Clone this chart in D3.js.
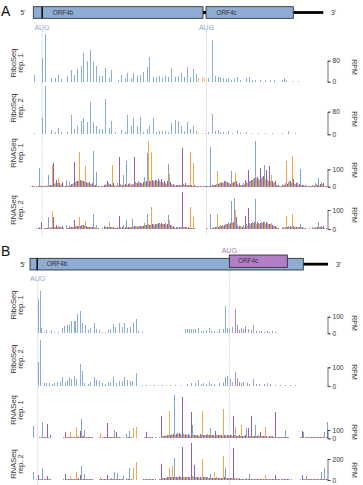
<!DOCTYPE html>
<html><head><meta charset="utf-8">
<script src="https://cdn.jsdelivr.net/npm/d3@7"></script>
<style>body{margin:0;background:#fff}svg{display:block}text{font-family:"Liberation Sans",Arial,sans-serif}</style>
</head><body><svg id="c" width="363" height="485"></svg>
<script>
// ---------- DATA (positions in nt along transcript, values in RPM) ----------
const riboA1Blue=[[4,25],[12,89],[15,180],[21,15],[25,13],[28,25],[31,10],[37,23],[41,44],[44,25],[47,48],[51,61],[53,108],[57,79],[60,121],[63,76],[66,61],[69,23],[72,23],[75,53],[79,15],[81,46],[88,6],[91,25],[95,13],[97,32],[101,15],[103,33],[107,23],[110,25],[113,36],[117,56],[119,94],[123,19],[126,18],[129,23],[132,15],[135,20],[138,19],[141,51],[145,19],[148,23],[151,32],[154,18],[157,55],[160,19],[163,48],[166,28],[178,13],[182,159],[185,23],[188,19],[190,19],[193,15],[196,10],[198,13],[201,8],[204,10],[207,19],[210,8],[216,13],[219,18],[222,8],[225,8],[230,5],[235,5],[240,5],[244,8],[252,8],[254,13],[256,5],[262,3],[268,3]];
const riboA1Orange=[[168,15],[172,19],[174,13]];
const riboA2Blue=[[4,4],[12,58],[15,170],[21,16],[25,7],[28,22],[31,7],[37,7],[41,68],[44,18],[47,28],[51,46],[53,58],[57,44],[60,113],[63,44],[66,28],[69,19],[72,19],[75,125],[79,22],[81,46],[85,7],[91,16],[95,7],[97,70],[101,31],[103,58],[107,31],[110,63],[113,7],[117,19],[119,28],[123,56],[126,7],[129,12],[132,10],[135,12],[138,7],[141,40],[145,50],[148,48],[151,28],[154,10],[157,44],[160,19],[163,31],[166,10],[178,7],[182,73],[185,10],[188,15],[190,7],[193,7],[196,5],[198,10],[202,5],[207,10],[210,5],[216,7],[222,5],[228,5],[235,5],[242,5],[252,5],[258,10],[265,5]];
const riboA2Orange=[[168,4],[172,5],[175,4]];

const rnaA1Blue=[2,3,4,106,3,6,67,10,15,20, 12,4,38,29,15,25,30,35,25,22, 18,207,86,2,5,15,20,12,8,20, 15,67,150,20,15,25,30,20,54,192, 30,35,38,30,25,20,130,15,8,10, 12,15,10,8,6,3,2,2,3,4, 230,10,15,20,25,30,20,92,25,15, 12,20,25,30,40,265,45,50,125,40, 30,20,10,3,15,20,25,20,15,25, 100,8,3,4,12,20,48,25,5,0];
const rnaA1Orange=[0,2,3,4,2,8,10,125,20,48, 15,3,8,12,20,30,202,38,119,20, 15,12,6,1,3,12,15,125,6,10, 8,10,12,15,18,20,25,18,28,265, 202,30,35,28,22,18,73,12,6,8, 10,12,8,202,134,2,2,1,2,3, 6,8,92,25,20,28,22,20,77,12, 10,15,20,35,45,50,40,55,45,35, 67,25,8,2,12,150,30,177,18,12, 10,6,2,3,8,15,12,18,3,0];
const rnaA1Purple=[2,1,5,3,4,5,8,134,38,22, 29,2,6,18,142,35,40,30,28,25, 20,10,5,2,8,35,18,20,5,169, 12,15,18,12,173,20,22,25,30,35, 38,40,42,45,35,30,25,18,10,12, 221,20,12,10,8,3,2,2,2,2, 8,12,18,22,30,25,18,25,30,20, 8,38,96,40,50,55,106,60,96,119, 35,30,12,4,10,18,35,42,20,15, 12,10,3,2,6,12,18,20,4,0];

const rnaA2Blue=[1,2,3,10,2,4,61,8,10,12, 8,3,21,15,10,15,18,20,15,12, 10,79,21,1,4,10,12,8,6,10, 8,20,47,12,51,15,18,15,30,79, 20,25,28,30,28,30,73,20,10,8, 10,12,8,6,5,2,1,1,2,3, 79,8,10,15,20,25,38,149,161,20, 15,20,25,30,35,156,30,35,38,30, 25,18,8,2,10,12,15,12,10,12, 26,6,2,3,8,12,38,15,4,0];
const rnaA2Orange=[0,1,2,3,1,5,8,96,12,15, 8,2,5,8,12,18,61,20,44,12, 10,8,4,1,2,8,37,10,4,6, 5,6,8,10,12,15,18,15,20,25, 114,22,25,28,25,20,47,10,5,6, 8,10,6,117,65,2,1,1,1,2, 5,6,79,20,18,25,28,30,100,10, 8,12,18,25,30,28,25,30,25,25, 33,15,6,1,8,68,12,79,10,8, 8,4,1,2,6,10,8,12,2,0];
const rnaA2Purple=[1,1,3,38,3,4,6,65,21,12, 15,1,4,10,47,15,18,20,15,12, 12,6,3,1,16,10,8,10,4,68, 8,10,12,10,15,12,15,18,20,22, 25,28,30,32,28,25,20,15,8,10, 196,12,8,6,5,2,1,1,1,1, 5,8,12,18,20,25,30,38,65,15, 8,68,109,30,35,38,30,38,35,25, 20,15,6,2,6,12,18,15,12,10, 8,6,2,1,4,8,12,15,3,0];

const riboB1Blue=[[8,205],[10,257],[11,34],[14,10],[16,19],[21,19],[24,8],[28,10],[32,29],[34,42],[37,48],[39,48],[41,76],[44,76],[45,76],[47,118],[50,133],[52,65],[55,48],[58,19],[60,29],[64,65],[66,23],[69,19],[72,10],[75,8],[78,19],[80,23],[83,57],[85,38],[89,65],[92,38],[94,61],[97,29],[100,38],[103,61],[106,86],[108,15],[112,10],[116,2],[120,2],[124,3],[128,2],[132,2],[136,3],[140,2],[142,3],[145,3],[150,4],[155,27],[157,27],[159,27],[161,27],[163,23],[165,27],[168,34],[171,11],[173,15],[176,19],[179,34],[181,11],[184,15],[187,8],[189,23],[193,23],[195,162],[197,29],[199,23],[202,38],[211,29],[218,23],[223,51],[229,11],[239,8],[255,3],[265,2]];
const riboB1Purple=[[205,148],[207,48],[209,19],[213,23],[215,46],[221,19],[226,15],[231,11],[234,10],[237,11],[242,11],[245,8],[250,3],[260,3],[270,3]];
const riboB2Blue=[[8,130],[10,246],[14,18],[16,14],[19,18],[22,11],[24,14],[27,23],[30,23],[32,50],[35,23],[37,32],[39,50],[41,36],[44,53],[46,36],[50,117],[52,82],[54,18],[58,11],[60,23],[64,46],[66,32],[69,28],[72,14],[75,11],[78,23],[80,14],[83,50],[86,18],[89,28],[92,28],[94,50],[97,32],[100,28],[102,28],[106,68],[112,4],[116,3],[120,4],[124,3],[128,4],[132,3],[136,4],[140,3],[145,3],[150,3],[157,11],[161,14],[165,14],[168,32],[171,11],[173,14],[176,11],[179,21],[181,11],[184,11],[189,14],[193,21],[195,46],[197,53],[200,36],[202,23],[211,18],[219,11],[223,39],[237,14],[255,4],[265,4]];
const riboB2Purple=[[205,75],[207,41],[209,23],[213,23],[217,14],[226,11],[229,11],[234,11],[240,11],[245,7],[250,4],[260,4]];

const rnaB1Blue=[5,152,8,10,192,15,10,8,6,3, 4,10,15,12,20,18,25,233,100,15, 12,3,2,10,15,12,18,20,100,15, 12,10,48,88,5,3,4,6,15,20, 12,8,5,10,30,40,45,50,518,60, 55,50,45,40,160,35,30,40,45,50, 120,45,40,35,30,35,40,45,35,30, 25,30,120,25,30,160,35,30,25,20, 25,20,18,15,12,100,10,8,4,3, 12,72,10,12,15,10,12,15,80,192];
const rnaB1Orange=[3,5,6,8,10,12,8,6,5,2, 3,8,10,80,15,140,20,25,20,12, 10,2,3,60,12,10,15,12,18,10, 8,6,10,12,128,136,4,5,10,15, 10,6,4,8,25,30,333,40,45,50, 45,40,35,30,40,35,30,329,45,40, 35,30,40,35,352,30,35,30,140,25, 160,25,20,25,30,25,28,30,140,20, 22,18,15,12,10,15,8,6,3,2, 10,8,12,10,15,12,10,12,8,6];
const rnaB1Purple=[4,6,8,10,12,168,40,8,5,3, 4,72,12,10,15,20,88,25,20,15, 10,3,2,8,10,180,15,12,72,10, 8,5,12,10,6,5,4,8,80,20, 15,10,6,270,30,40,45,50,55,60, 500,55,50,315,45,40,50,45,40,35, 40,88,35,40,45,35,40,270,30,35, 30,35,128,270,30,25,80,30,25,30, 28,315,20,15,12,10,8,6,3,2, 88,10,12,15,10,12,15,12,10,8];

const rnaB2Blue=[3,73,5,6,117,8,6,4,3,2, 3,5,8,6,10,12,15,136,54,10, 8,2,2,6,10,8,12,15,73,63, 10,41,15,111,4,3,3,4,8,10, 6,5,4,6,15,20,25,30,206,30, 28,25,30,25,35,30,25,20,25,30, 54,20,25,20,15,111,20,18,15,12, 10,12,15,54,10,12,10,8,10,8, 10,8,6,5,6,8,6,5,3,2, 6,8,41,6,8,10,12,73,111,8];
const rnaB2Orange=[2,3,4,5,4,6,5,3,2,1, 2,4,6,41,8,73,10,12,10,6, 5,1,2,32,6,5,8,10,10,6, 5,4,8,6,117,168,3,3,6,8, 5,4,3,5,18,20,117,130,28,25, 30,25,28,22,30,25,20,200,25,22, 20,73,18,15,231,15,18,15,12,10, 8,10,12,10,8,10,12,8,48,8, 8,6,5,4,5,6,5,4,2,1, 4,6,5,6,8,6,8,6,5,4];
const rnaB2Purple=[2,3,48,5,6,41,5,4,2,1, 2,54,8,6,10,12,48,12,10,8, 6,2,2,5,8,48,10,8,12,6, 5,4,6,5,4,3,3,5,8,10, 8,6,4,150,20,25,28,30,32,35, 317,30,28,349,143,25,30,28,25,22, 20,18,20,22,25,20,22,307,18,15, 12,10,12,10,8,10,8,10,8,6, 8,48,6,5,6,5,4,3,2,1, 48,6,5,6,8,6,8,6,5,4];

// gene structures (nt)
const geneA = {txStart:3.3, txEnd:293.3, orfs:[{name:"ORF4b",start:11.7,end:173,frame:"blue"},{name:"ORF4c",start:176,end:263.3,frame:"blue"}]};
const geneB = {txStart:0, txEnd:298, orfs:[{name:"ORF4b",start:6.7,end:273.3,frame:"blue"},{name:"ORF4c",start:199.3,end:257.3,frame:"purple"}]};
const augA = [{pos:12, frame:"blue"},{pos:176.5, frame:"blue"}];
const augB = [{pos:7.7, frame:"blue"},{pos:199.3, frame:"purple"}];

// ---------- DRAWING ----------
const svg = d3.select("#c");
const x = d3.scaleLinear().domain([0,300]).range([30,330]);
const COL = {blue:"#7fa5d3", orange:"#f0a84a", purple:"#9a5fa9", riboBlue:"#8aaed9", riboPurple:"#b088c6", riboOrange:"#f2c070",
  box:"#8eacd4", boxPurple:"#b47ec6", augBlue:"#8ea9cf", augPurple:"#a878bd", text:"#333"};

const tracks = [
 {lab:["RiboSeq","rep. 1"], base:81.7, tick:80, tickY:60.7, labY:63, rpmY:67, pairs:[[riboA1Blue,COL.riboBlue],[riboA1Orange,COL.riboOrange]]},
 {lab:["RiboSeq","rep. 2"], base:134.3, tick:80, tickY:111.7, labY:108, rpmY:119, pairs:[[riboA2Blue,COL.riboBlue],[riboA2Orange,COL.riboOrange]]},
 {lab:["RNASeq","rep. 1"], base:186.7, tick:100, tickY:169.3, labY:153, rpmY:170, codons:[rnaA1Blue,rnaA1Orange,rnaA1Purple]},
 {lab:["RNASeq","rep. 2"], base:229, tick:100, tickY:210, labY:210, rpmY:215, codons:[rnaA2Blue,rnaA2Orange,rnaA2Purple]},
 {lab:["RiboSeq","rep. 1"], base:333.3, tick:100, tickY:316.7, labY:305, rpmY:323, pairs:[[riboB1Blue,COL.riboBlue],[riboB1Purple,COL.riboPurple]]},
 {lab:["RiboSeq","rep. 2"], base:386, tick:100, tickY:367.3, labY:359, rpmY:372, pairs:[[riboB2Blue,COL.riboBlue],[riboB2Purple,COL.riboPurple]]},
 {lab:["RNASeq","rep. 1"], base:438.3, tick:100, tickY:430, labY:410, rpmY:432, codons:[rnaB1Blue,rnaB1Orange,rnaB1Purple]},
 {lab:["RNASeq","rep. 2"], base:480, tick:200, tickY:459, labY:464, rpmY:470, codons:[rnaB2Blue,rnaB2Orange,rnaB2Purple]}
];
const frameCols=[COL.blue,COL.orange,COL.purple];

// dotted AUG guide lines (behind bars)
const guides = svg.append("g").attr("stroke","#a9a9a9").attr("stroke-width",0.7).attr("stroke-dasharray","1,1.2");
augA.forEach(a=>guides.append("line").attr("x1",x(a.pos)).attr("x2",x(a.pos)).attr("y1",31).attr("y2",236));
augB.forEach(a=>guides.append("line").attr("x1",x(a.pos)).attr("x2",x(a.pos)).attr("y1",a.frame==="purple"?269:282).attr("y2",485));

tracks.forEach(t=>{
  const y = d3.scaleLinear().domain([0,t.tick]).range([t.base,t.tickY]);
  const g = svg.append("g").attr("shape-rendering","crispEdges");
  if(t.pairs){
    t.pairs.forEach(([data,col])=>{
      g.append("g").selectAll("rect").data(data).join("rect")
        .attr("x",d=>Math.round(x(d[0]))).attr("width",1)
        .attr("y",d=>y(d[1])).attr("height",d=>y(0)-y(d[1])).attr("fill",col);
    });
  } else {
    t.codons.forEach((data,f)=>{
      g.append("g").selectAll("rect").data(data).join("rect")
        .attr("x",(d,i)=>Math.round(x(3*i+f))).attr("width",1)
        .attr("y",d=>y(d)).attr("height",d=>y(0)-y(d)).attr("fill",frameCols[f]);
    });
  }
  // axis bracket
  const ax = svg.append("g").attr("transform","translate(327.5,0)")
    .call(d3.axisRight(y).tickValues([0,t.tick]).tickSize(3).tickSizeOuter(3).tickPadding(2));
  ax.attr("font-family",null).attr("font-size",null);
  ax.selectAll("path,line").attr("stroke","#333").attr("stroke-width",0.7);
  ax.selectAll("text").attr("font-size",6.6).attr("fill",COL.text).attr("font-family","Liberation Sans, Arial, sans-serif");
  // RPM
  svg.append("text").attr("transform",`translate(351.5,${t.rpmY}) rotate(90)`).attr("text-anchor","middle")
    .attr("font-size",7).attr("fill",COL.text).text("RPM");
  // track label
  const lt = svg.append("text").attr("transform",`translate(16,${t.labY}) rotate(-90)`).attr("text-anchor","middle")
    .attr("font-size",7.6).attr("fill",COL.text);
  lt.append("tspan").attr("x",0).attr("dy",0).text(t.lab[0]);
  lt.append("tspan").attr("x",0).attr("dy",7.4).text(t.lab[1]);
});

// panel letters
svg.append("text").attr("x",1).attr("y",16).attr("font-size",14).attr("fill","#111").text("A");
svg.append("text").attr("x",1).attr("y",256).attr("font-size",14).attr("fill","#111").text("B");

function drawGene(gene, augs, top, h){
  const g = svg.append("g");
  const cy = top + h/2;
  svg.append("text").attr("x",20.5).attr("y",cy+2.4).attr("font-size",6.6).attr("fill",COL.text).text("5'");
  const last = gene.orfs[gene.orfs.length-1];
  const blueEnd = d3.max(gene.orfs.filter(o=>o.frame==="blue"),o=>o.end);
  // tail line
  g.append("rect").attr("x",x(blueEnd)).attr("y",cy-1.4).attr("width",x(gene.txEnd)-x(blueEnd)).attr("height",2.8).attr("fill","#000");
  return {g,cy};
}

// Gene A
(function(){
  const top=6.7,h=11.6,cy=top+h/2;
  const g=svg.append("g");
  svg.append("text").attr("x",20.5).attr("y",cy+2.4).attr("font-size",6.6).attr("fill",COL.text).text("5'");
  const o1=geneA.orfs[0], o2=geneA.orfs[1];
  g.append("rect").attr("x",x(o1.end)).attr("y",cy-1.6).attr("width",x(o2.start)-x(o1.end)).attr("height",3.2).attr("fill","#000");
  g.append("rect").attr("x",x(o2.end)).attr("y",cy-1.4).attr("width",x(geneA.txEnd)-x(o2.end)).attr("height",2.8).attr("fill","#000");
  g.append("rect").attr("x",x(geneA.txStart)).attr("y",top).attr("width",x(o1.end)-x(geneA.txStart)).attr("height",h)
    .attr("fill",COL.box).attr("stroke","#222").attr("stroke-width",0.8);
  g.append("rect").attr("x",x(o1.start)-0.3).attr("y",top).attr("width",1.6).attr("height",h).attr("fill","#111");
  g.append("rect").attr("x",x(o2.start)).attr("y",top).attr("width",x(o2.end)-x(o2.start)).attr("height",h)
    .attr("fill",COL.box).attr("stroke","#222").attr("stroke-width",0.8);
  g.append("text").attr("x",x(o1.start)+11).attr("y",cy+2.3).attr("font-size",6.4).attr("fill",COL.text).text(o1.name);
  g.append("text").attr("x",x(o2.start)+10.5).attr("y",cy+2.3).attr("font-size",6.4).attr("fill",COL.text).text(o2.name);
  svg.append("text").attr("x",331).attr("y",cy+2.4).attr("font-size",6.6).attr("fill",COL.text).text("3'");
  augA.forEach(a=>svg.append("text").attr("x",x(a.pos)).attr("y",29.8).attr("text-anchor","middle")
    .attr("font-size",7).attr("fill",COL.augBlue).text("AUG"));
})();

// Gene B
(function(){
  const top=258.3,h=11.7,cy=top+h/2;
  const g=svg.append("g");
  svg.append("text").attr("x",20.5).attr("y",cy+2.4).attr("font-size",6.6).attr("fill",COL.text).text("5'");
  const o1=geneB.orfs[0], o2=geneB.orfs[1];
  g.append("rect").attr("x",x(o1.end)).attr("y",cy-1.4).attr("width",x(geneB.txEnd)-x(o1.end)).attr("height",2.8).attr("fill","#000");
  g.append("rect").attr("x",x(geneB.txStart)).attr("y",top).attr("width",x(o1.end)-x(geneB.txStart)).attr("height",h)
    .attr("fill",COL.box).attr("stroke","#222").attr("stroke-width",0.8);
  g.append("rect").attr("x",x(o1.start)-0.3).attr("y",top).attr("width",1.6).attr("height",h).attr("fill","#111");
  g.append("rect").attr("x",x(o2.start)).attr("y",top-3.3).attr("width",x(o2.end)-x(o2.start)).attr("height",12.3)
    .attr("fill",COL.boxPurple).attr("stroke","#222").attr("stroke-width",0.8);
  g.append("text").attr("x",x(o1.start)+10).attr("y",cy+2.3).attr("font-size",6.4).attr("fill",COL.text).text(o1.name);
  g.append("text").attr("x",x(o2.start)+8.7).attr("y",cy-0.7).attr("font-size",6.4).attr("fill",COL.text).text(o2.name);
  svg.append("text").attr("x",336).attr("y",cy+2.4).attr("font-size",6.6).attr("fill",COL.text).text("3'");
  augB.forEach(a=>svg.append("text").attr("x",x(a.pos)).attr("y",a.frame==="purple"?252.5:281)
    .attr("text-anchor","middle").attr("font-size",7)
    .attr("fill",a.frame==="purple"?COL.augPurple:COL.augBlue).text("AUG"));
})();
</script></body></html>
